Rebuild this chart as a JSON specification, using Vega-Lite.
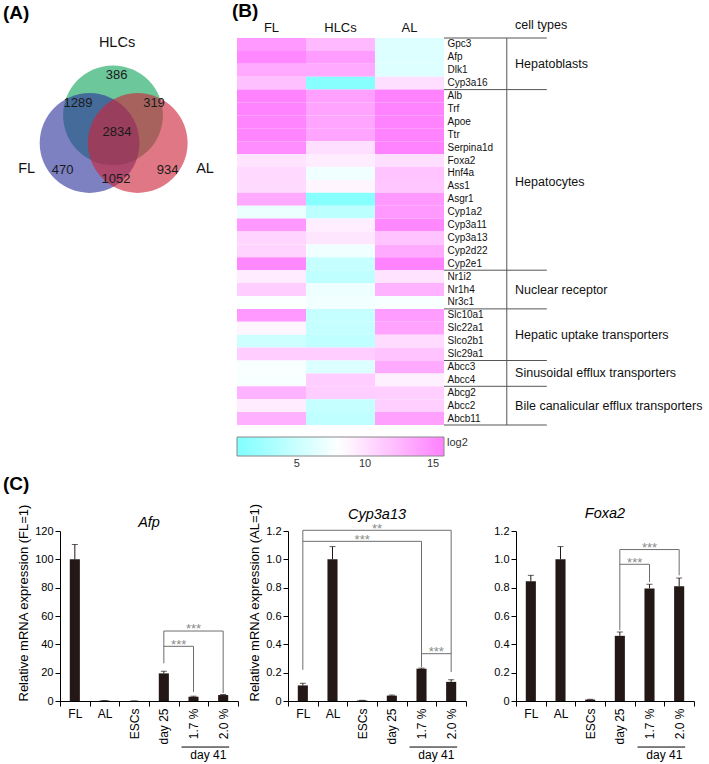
{
"$schema":"https://vega.github.io/schema/vega-lite/v6.json",
"autosize":{"type":"pad"},
"padding":{"left":3,"top":2,"right":0,"bottom":0},
"config":{"view":{"stroke":null},"font":"Liberation Sans",
 "axis":{"grid":false,"labelOverlap":false,"labelColor":"#000","domainColor":"#000","tickColor":"#000","titleColor":"#000","titleFontWeight":"normal","labelFont":"Liberation Sans","titleFont":"Liberation Sans"},
 "title":{"font":"Liberation Sans","color":"#000"},
 "text":{"font":"Liberation Sans"},
 "legend":{"labelFont":"Liberation Sans","titleFont":"Liberation Sans"}},
"datasets":{"heat":[
{"g":"Gpc3","s":"FL","v":14.3},{"g":"Gpc3","s":"HLCs","v":12.4},{"g":"Gpc3","s":"AL","v":6.2},
{"g":"Afp","s":"FL","v":15.4},{"g":"Afp","s":"HLCs","v":14.1},{"g":"Afp","s":"AL","v":6.2},
{"g":"Dlk1","s":"FL","v":13.3},{"g":"Dlk1","s":"HLCs","v":13.3},{"g":"Dlk1","s":"AL","v":6.2},
{"g":"Cyp3a16","s":"FL","v":12.0},{"g":"Cyp3a16","s":"HLCs","v":1.0},{"g":"Cyp3a16","s":"AL","v":10.1},
{"g":"Alb","s":"FL","v":15.6},{"g":"Alb","s":"HLCs","v":13.9},{"g":"Alb","s":"AL","v":15.6},
{"g":"Trf","s":"FL","v":15.6},{"g":"Trf","s":"HLCs","v":13.7},{"g":"Trf","s":"AL","v":15.6},
{"g":"Apoe","s":"FL","v":15.5},{"g":"Apoe","s":"HLCs","v":13.6},{"g":"Apoe","s":"AL","v":15.6},
{"g":"Ttr","s":"FL","v":15.5},{"g":"Ttr","s":"HLCs","v":13.6},{"g":"Ttr","s":"AL","v":15.6},
{"g":"Serpina1d","s":"FL","v":15.0},{"g":"Serpina1d","s":"HLCs","v":10.1},{"g":"Serpina1d","s":"AL","v":15.6},
{"g":"Foxa2","s":"FL","v":9.9},{"g":"Foxa2","s":"HLCs","v":9.3},{"g":"Foxa2","s":"AL","v":10.1},
{"g":"Hnf4a","s":"FL","v":10.5},{"g":"Hnf4a","s":"HLCs","v":7.3},{"g":"Hnf4a","s":"AL","v":11.8},
{"g":"Ass1","s":"FL","v":10.4},{"g":"Ass1","s":"HLCs","v":8.8},{"g":"Ass1","s":"AL","v":11.6},
{"g":"Asgr1","s":"FL","v":13.3},{"g":"Asgr1","s":"HLCs","v":1.0},{"g":"Asgr1","s":"AL","v":14.3},
{"g":"Cyp1a2","s":"FL","v":7.0},{"g":"Cyp1a2","s":"HLCs","v":4.2},{"g":"Cyp1a2","s":"AL","v":14.3},
{"g":"Cyp3a11","s":"FL","v":14.3},{"g":"Cyp3a11","s":"HLCs","v":9.2},{"g":"Cyp3a11","s":"AL","v":15.3},
{"g":"Cyp3a13","s":"FL","v":10.7},{"g":"Cyp3a13","s":"HLCs","v":9.7},{"g":"Cyp3a13","s":"AL","v":11.8},
{"g":"Cyp2d22","s":"FL","v":10.7},{"g":"Cyp2d22","s":"HLCs","v":7.3},{"g":"Cyp2d22","s":"AL","v":13.3},
{"g":"Cyp2e1","s":"FL","v":15.3},{"g":"Cyp2e1","s":"HLCs","v":4.7},{"g":"Cyp2e1","s":"AL","v":15.7},
{"g":"Nr1i2","s":"FL","v":9.3},{"g":"Nr1i2","s":"HLCs","v":4.4},{"g":"Nr1i2","s":"AL","v":9.9},
{"g":"Nr1h4","s":"FL","v":11.2},{"g":"Nr1h4","s":"HLCs","v":7.1},{"g":"Nr1h4","s":"AL","v":12.8},
{"g":"Nr3c1","s":"FL","v":8.0},{"g":"Nr3c1","s":"HLCs","v":7.4},{"g":"Nr3c1","s":"AL","v":7.8},
{"g":"Slc10a1","s":"FL","v":14.3},{"g":"Slc10a1","s":"HLCs","v":4.7},{"g":"Slc10a1","s":"AL","v":14.1},
{"g":"Slc22a1","s":"FL","v":8.8},{"g":"Slc22a1","s":"HLCs","v":4.7},{"g":"Slc22a1","s":"AL","v":13.7},
{"g":"Slco2b1","s":"FL","v":5.2},{"g":"Slco2b1","s":"HLCs","v":4.4},{"g":"Slco2b1","s":"AL","v":10.3},
{"g":"Slc29a1","s":"FL","v":11.2},{"g":"Slc29a1","s":"HLCs","v":11.2},{"g":"Slc29a1","s":"AL","v":11.8},
{"g":"Abcc3","s":"FL","v":7.8},{"g":"Abcc3","s":"HLCs","v":6.1},{"g":"Abcc3","s":"AL","v":13.3},
{"g":"Abcc4","s":"FL","v":7.8},{"g":"Abcc4","s":"HLCs","v":11.2},{"g":"Abcc4","s":"AL","v":9.1},
{"g":"Abcg2","s":"FL","v":12.8},{"g":"Abcg2","s":"HLCs","v":11.2},{"g":"Abcg2","s":"AL","v":11.0},
{"g":"Abcc2","s":"FL","v":9.3},{"g":"Abcc2","s":"HLCs","v":4.7},{"g":"Abcc2","s":"AL","v":11.0},
{"g":"Abcb11","s":"FL","v":12.9},{"g":"Abcb11","s":"HLCs","v":4.4},{"g":"Abcb11","s":"AL","v":13.9}
]},
"spacing":6,
"vconcat":[
{"hconcat":[
 {"width":160,"height":170,
  "title":{"text":"(A)","anchor":"start","frame":"group","dx":-57,"fontSize":19,"fontWeight":"bold","offset":12},
  "layer":[
   {"data":{"values":[{"set":"HLCs","cx":53,"cy":77.3},{"set":"FL","cx":29.6,"cy":105},{"set":"AL","cx":77.7,"cy":105}]},
    "mark":{"type":"point","shape":"circle","filled":true,"opacity":0.62,"size":9960,"strokeWidth":0},
    "encoding":{"x":{"field":"cx","type":"quantitative","scale":{"domain":[0,160],"nice":false,"zero":false},"axis":null},
     "y":{"field":"cy","type":"quantitative","scale":{"domain":[0,170],"nice":false,"zero":false,"reverse":true},"axis":null},
     "color":{"field":"set","type":"nominal","scale":{"domain":["HLCs","FL","AL"],"range":["#11a45c","#2d329b","#cd2338"]},"legend":null}}},
   {"data":{"values":[{"t":"HLCs","x":57,"y":4.7},{"t":"FL","x":-33.3,"y":131.3},{"t":"AL","x":145,"y":131.3}]},
    "mark":{"type":"text","fontSize":14.5,"color":"#111","baseline":"middle","align":"center"},
    "encoding":{"x":{"field":"x","type":"quantitative"},"y":{"field":"y","type":"quantitative"},"text":{"field":"t"}}},
   {"data":{"values":[{"t":"386","x":56.7,"y":37},{"t":"1289","x":18,"y":65},{"t":"319","x":94,"y":65},{"t":"2834","x":57,"y":93.7},{"t":"470","x":2.7,"y":132},{"t":"1052","x":56,"y":141},{"t":"934","x":107.7,"y":132}]},
    "mark":{"type":"text","fontSize":13,"color":"#1a1a1a","baseline":"middle","align":"center"},
    "encoding":{"x":{"field":"x","type":"quantitative"},"y":{"field":"y","type":"quantitative"},"text":{"field":"t"}}}
  ]},
 {"width":207,"height":387,
  "title":{"text":"(B)","anchor":"start","frame":"group","dx":-5,"fontSize":19,"fontWeight":"bold","offset":-2},
  "resolve":{"scale":{"x":"independent","y":"independent"}},
  "layer":[
   {"data":{"name":"heat"},"mark":{"type":"rect"},
    "encoding":{
     "x":{"field":"s","type":"nominal","sort":["FL","HLCs","AL"],"scale":{"paddingInner":0,"paddingOuter":0},"axis":{"orient":"top","title":null,"ticks":false,"domain":false,"labelAngle":0,"labelFontSize":13,"labelPadding":4,"labelColor":"#111"}},
     "y":{"field":"g","type":"nominal","sort":["Gpc3","Afp","Dlk1","Cyp3a16","Alb","Trf","Apoe","Ttr","Serpina1d","Foxa2","Hnf4a","Ass1","Asgr1","Cyp1a2","Cyp3a11","Cyp3a13","Cyp2d22","Cyp2e1","Nr1i2","Nr1h4","Nr3c1","Slc10a1","Slc22a1","Slco2b1","Slc29a1","Abcc3","Abcc4","Abcg2","Abcc2","Abcb11"],"scale":{"paddingInner":0,"paddingOuter":0},"axis":{"orient":"right","title":null,"ticks":false,"domain":false,"labelFontSize":10,"labelPadding":3,"labelColor":"#111"}},
     "color":{"field":"v","type":"quantitative","scale":{"domain":[0.6,15.8],"domainMid":8.2,"range":["#80ffff","#ffffff","#ff80ff"],"interpolate":"rgb","zero":false,"nice":false},
      "legend":{"orient":"none","legendX":0,"legendY":399,"direction":"horizontal","gradientLength":207,"gradientThickness":19,"gradientStrokeColor":"#888","gradientStrokeWidth":1,"values":[5,10,15],"title":"log2","titleOrient":"right","titleAnchor":"start","titlePadding":2,"titleFontSize":11,"titleFontWeight":"normal","titleColor":"#333","labelFontSize":11,"labelColor":"#333","labelOffset":2}}}},
   {"data":{"values":[{"xa":3,"xb":4.49,"ya":0,"yb":0},{"xa":3,"xb":4.49,"ya":4,"yb":4},{"xa":3,"xb":4.49,"ya":18,"yb":18},{"xa":3,"xb":4.49,"ya":21,"yb":21},{"xa":3,"xb":4.49,"ya":25,"yb":25},{"xa":3,"xb":4.49,"ya":27,"yb":27},{"xa":3,"xb":4.49,"ya":30,"yb":30},{"xa":3.91,"xb":3.91,"ya":0,"yb":30}]},
    "mark":{"type":"rule","color":"#555","strokeWidth":1},
    "encoding":{"x":{"field":"xa","type":"quantitative","scale":{"domain":[0,3],"nice":false,"zero":false},"axis":null},"x2":{"field":"xb"},
     "y":{"field":"ya","type":"quantitative","scale":{"domain":[0,30],"nice":false,"zero":false,"reverse":true},"axis":null},"y2":{"field":"yb"}}},
   {"data":{"values":[{"t":"cell types","x":4.03,"y":-1.0},{"t":"Hepatoblasts","x":4.03,"y":2},{"t":"Hepatocytes","x":4.03,"y":11.2},{"t":"Nuclear receptor","x":4.03,"y":19.5},{"t":"Hepatic uptake transporters","x":4.03,"y":23},{"t":"Sinusoidal efflux transporters","x":4.03,"y":26},{"t":"Bile canalicular efflux transporters","x":4.03,"y":28.5}]},
    "mark":{"type":"text","align":"left","baseline":"middle","fontSize":12.5,"color":"#111"},
    "encoding":{"x":{"field":"x","type":"quantitative","scale":{"domain":[0,3],"nice":false,"zero":false},"axis":null},
     "y":{"field":"y","type":"quantitative","scale":{"domain":[0,30],"nice":false,"zero":false,"reverse":true},"axis":null},
     "text":{"field":"t"}}}
  ]}
 ],"spacing":17,"bounds":"flush"},
{"hconcat":[
 {"width":178,"height":170,
  "title":{"text":"Afp","fontStyle":"italic","fontSize":14.5,"fontWeight":"normal","offset":-4,"dy":22.7},
  "data":{"values":[{"c":"FL","v":100,"hi":110.5},{"c":"AL","v":0.3,"hi":0.3},{"c":"ESCs","v":0.1,"hi":0.1},{"c":"day 25","v":19.5,"hi":21},{"c":"1.7 %","v":3,"hi":3.4},{"c":"2.0 %","v":4.2,"hi":4.6}]},
  "layer":[
   {"mark":{"type":"bar","color":"#231815","width":{"band":0.34}},
    "encoding":{"x":{"field":"c","type":"nominal","sort":null,"scale":{"domain":["FL","AL","ESCs","day 25","1.7 %","2.0 %"],"paddingInner":0,"paddingOuter":0},
      "axis":{"title":null,"tickBand":"extent","tickSize":5,"labelPadding":2,"labelFontSize":12,"labelAngle":{"expr":"(datum.value=='FL'||datum.value=='AL')?0:270"},"labelAlign":{"condition":{"test":"datum.value=='FL'||datum.value=='AL'","value":"center"},"value":"right"},"labelBaseline":{"condition":{"test":"datum.value=='FL'||datum.value=='AL'","value":"top"},"value":"middle"}}},
     "y":{"field":"v","type":"quantitative","scale":{"domain":[0,120],"nice":false},"axis":{"values":[0,20,40,60,80,100,120],"tickCount":7,"labelOverlap":false,"title":"Relative mRNA expression (FL=1)","titleFontSize":13,"titleAnchor":"start","titlePadding":4,"tickSize":5,"labelPadding":2,"labelFontSize":11}}}},
   {"mark":{"type":"rule","color":"#231815"},"encoding":{"x":{"field":"c","type":"nominal"},"y":{"field":"v","type":"quantitative"},"y2":{"field":"hi"}}},
   {"mark":{"type":"tick","color":"#231815","size":6,"thickness":1},"encoding":{"x":{"field":"c","type":"nominal"},"y":{"field":"hi","type":"quantitative"}}},
   {"data":{"values":[{"xa":"day 25","xb":"2.0 %","ya":49.4,"yb":49.4},{"xa":"day 25","xb":"day 25","ya":26.6,"yb":49.4},{"xa":"2.0 %","xb":"2.0 %","ya":5.6,"yb":49.4},{"xa":"day 25","xb":"1.7 %","ya":38.6,"yb":38.6},{"xa":"1.7 %","xb":"1.7 %","ya":6.4,"yb":38.6}]},
    "mark":{"type":"rule","color":"#6e6e6e","strokeWidth":1},
    "encoding":{"x":{"field":"xa","type":"nominal"},"x2":{"field":"xb"},"y":{"field":"ya","type":"quantitative"},"y2":{"field":"yb"}}},
   {"data":{"values":[{"sx":"1.7 %","y":49.4,"t":"***"}]},
    "mark":{"type":"text","color":"#8a8a8a","fontSize":13,"baseline":"alphabetic","dy":2.4},
    "encoding":{"x":{"field":"sx","type":"nominal"},"y":{"field":"y","type":"quantitative"},"text":{"field":"t"}}},
   {"data":{"values":[{"sx":"1.7 %","y":38.6,"t":"***"}]},
    "mark":{"type":"text","color":"#8a8a8a","fontSize":13,"baseline":"alphabetic","dy":2.4},
    "encoding":{"x":{"field":"sx","type":"nominal","bandPosition":0},"y":{"field":"y","type":"quantitative"},"text":{"field":"t"}}},
   {"data":{"values":[{}]},"mark":{"type":"rule","color":"#000","xOffset":-12,"x2Offset":6},
    "encoding":{"x":{"datum":"1.7 %"},"x2":{"datum":"2.0 %"},"y":{"datum":-32.5}}},
   {"data":{"values":[{}]},"mark":{"type":"text","fontSize":12,"baseline":"middle","color":"#000"},
    "encoding":{"x":{"datum":"2.0 %","bandPosition":0},"y":{"datum":-38.3},"text":{"value":"day 41"}}}
  ]},
 {"width":178,"height":170,
  "title":{"text":"Cyp3a13","fontStyle":"italic","fontSize":14.5,"fontWeight":"normal","offset":0,"dy":19.6},
  "data":{"values":[{"c":"FL","v":0.11,"hi":0.125},{"c":"AL","v":1.0,"hi":1.09},{"c":"ESCs","v":0.004,"hi":0.005},{"c":"day 25","v":0.038,"hi":0.042},{"c":"1.7 %","v":0.228,"hi":0.232},{"c":"2.0 %","v":0.135,"hi":0.15}]},
  "layer":[
   {"mark":{"type":"bar","color":"#231815","width":{"band":0.34}},
    "encoding":{"x":{"field":"c","type":"nominal","sort":null,"scale":{"domain":["FL","AL","ESCs","day 25","1.7 %","2.0 %"],"paddingInner":0,"paddingOuter":0},
      "axis":{"title":null,"tickBand":"extent","tickSize":5,"labelPadding":2,"labelFontSize":12,"labelAngle":{"expr":"(datum.value=='FL'||datum.value=='AL')?0:270"},"labelAlign":{"condition":{"test":"datum.value=='FL'||datum.value=='AL'","value":"center"},"value":"right"},"labelBaseline":{"condition":{"test":"datum.value=='FL'||datum.value=='AL'","value":"top"},"value":"middle"}}},
     "y":{"field":"v","type":"quantitative","scale":{"domain":[0,1.2],"nice":false},"axis":{"values":[0,0.2,0.4,0.6,0.8,1.0,1.2],"tickCount":7,"labelOverlap":false,"labelExpr":"datum.value==0?'0':format(datum.value,'.1f')","title":"Relative mRNA expression (AL=1)","titleFontSize":13,"titleAnchor":"start","titlePadding":4,"tickSize":5,"labelPadding":2,"labelFontSize":11}}}},
   {"mark":{"type":"rule","color":"#231815"},"encoding":{"x":{"field":"c","type":"nominal"},"y":{"field":"v","type":"quantitative"},"y2":{"field":"hi"}}},
   {"mark":{"type":"tick","color":"#231815","size":6,"thickness":1},"encoding":{"x":{"field":"c","type":"nominal"},"y":{"field":"hi","type":"quantitative"}}},
   {"data":{"values":[{"xa":"FL","xb":"2.0 %","ya":1.205,"yb":1.205},{"xa":"FL","xb":"FL","ya":0.22,"yb":1.205},{"xa":"2.0 %","xb":"2.0 %","ya":0.205,"yb":1.205},{"xa":"FL","xb":"1.7 %","ya":1.127,"yb":1.127},{"xa":"1.7 %","xb":"1.7 %","ya":0.24,"yb":1.127},{"xa":"1.7 %","xb":"2.0 %","ya":0.334,"yb":0.334}]},
    "mark":{"type":"rule","color":"#6e6e6e","strokeWidth":1},
    "encoding":{"x":{"field":"xa","type":"nominal"},"x2":{"field":"xb"},"y":{"field":"ya","type":"quantitative"},"y2":{"field":"yb"}}},
   {"data":{"values":[{"sx":"ESCs","y":1.127,"t":"***"}]},
    "mark":{"type":"text","color":"#8a8a8a","fontSize":13,"baseline":"alphabetic","dy":2.4},
    "encoding":{"x":{"field":"sx","type":"nominal"},"y":{"field":"y","type":"quantitative"},"text":{"field":"t"}}},
   {"data":{"values":[{"sx":"day 25","y":1.205,"t":"**"},{"sx":"2.0 %","y":0.334,"t":"***"}]},
    "mark":{"type":"text","color":"#8a8a8a","fontSize":13,"baseline":"alphabetic","dy":2.4},
    "encoding":{"x":{"field":"sx","type":"nominal","bandPosition":0},"y":{"field":"y","type":"quantitative"},"text":{"field":"t"}}},
   {"data":{"values":[{}]},"mark":{"type":"rule","color":"#000","xOffset":-12,"x2Offset":6},
    "encoding":{"x":{"datum":"1.7 %"},"x2":{"datum":"2.0 %"},"y":{"datum":-0.325}}},
   {"data":{"values":[{}]},"mark":{"type":"text","fontSize":12,"baseline":"middle","color":"#000"},
    "encoding":{"x":{"datum":"2.0 %","bandPosition":0},"y":{"datum":-0.383},"text":{"value":"day 41"}}}
  ]},
 {"width":178,"height":170,
  "title":{"text":"Foxa2","fontStyle":"italic","fontSize":14.5,"fontWeight":"normal","offset":5,"dy":1.9},
  "data":{"values":[{"c":"FL","v":0.845,"hi":0.887},{"c":"AL","v":1.0,"hi":1.09},{"c":"ESCs","v":0.01,"hi":0.012},{"c":"day 25","v":0.46,"hi":0.487},{"c":"1.7 %","v":0.795,"hi":0.824},{"c":"2.0 %","v":0.81,"hi":0.868}]},
  "layer":[
   {"mark":{"type":"bar","color":"#231815","width":{"band":0.34}},
    "encoding":{"x":{"field":"c","type":"nominal","sort":null,"scale":{"domain":["FL","AL","ESCs","day 25","1.7 %","2.0 %"],"paddingInner":0,"paddingOuter":0},
      "axis":{"title":null,"tickBand":"extent","tickSize":5,"labelPadding":2,"labelFontSize":12,"labelAngle":{"expr":"(datum.value=='FL'||datum.value=='AL')?0:270"},"labelAlign":{"condition":{"test":"datum.value=='FL'||datum.value=='AL'","value":"center"},"value":"right"},"labelBaseline":{"condition":{"test":"datum.value=='FL'||datum.value=='AL'","value":"top"},"value":"middle"}}},
     "y":{"field":"v","type":"quantitative","scale":{"domain":[0,1.2],"nice":false},"axis":{"values":[0,0.2,0.4,0.6,0.8,1.0,1.2],"tickCount":7,"labelOverlap":false,"labelExpr":"datum.value==0?'0':format(datum.value,'.1f')","title":null,"tickSize":5,"labelPadding":2,"labelFontSize":11}}}},
   {"mark":{"type":"rule","color":"#231815"},"encoding":{"x":{"field":"c","type":"nominal"},"y":{"field":"v","type":"quantitative"},"y2":{"field":"hi"}}},
   {"mark":{"type":"tick","color":"#231815","size":6,"thickness":1},"encoding":{"x":{"field":"c","type":"nominal"},"y":{"field":"hi","type":"quantitative"}}},
   {"data":{"values":[{"xa":"day 25","xb":"2.0 %","ya":1.069,"yb":1.069},{"xa":"day 25","xb":"day 25","ya":0.5,"yb":1.069},{"xa":"2.0 %","xb":"2.0 %","ya":0.887,"yb":1.069},{"xa":"day 25","xb":"1.7 %","ya":0.965,"yb":0.965},{"xa":"1.7 %","xb":"1.7 %","ya":0.84,"yb":0.965}]},
    "mark":{"type":"rule","color":"#6e6e6e","strokeWidth":1},
    "encoding":{"x":{"field":"xa","type":"nominal"},"x2":{"field":"xb"},"y":{"field":"ya","type":"quantitative"},"y2":{"field":"yb"}}},
   {"data":{"values":[{"sx":"1.7 %","y":1.069,"t":"***"}]},
    "mark":{"type":"text","color":"#8a8a8a","fontSize":13,"baseline":"alphabetic","dy":2.4},
    "encoding":{"x":{"field":"sx","type":"nominal"},"y":{"field":"y","type":"quantitative"},"text":{"field":"t"}}},
   {"data":{"values":[{"sx":"1.7 %","y":0.965,"t":"***"}]},
    "mark":{"type":"text","color":"#8a8a8a","fontSize":13,"baseline":"alphabetic","dy":2.4},
    "encoding":{"x":{"field":"sx","type":"nominal","bandPosition":0},"y":{"field":"y","type":"quantitative"},"text":{"field":"t"}}},
   {"data":{"values":[{}]},"mark":{"type":"rule","color":"#000","xOffset":-12,"x2Offset":6},
    "encoding":{"x":{"datum":"1.7 %"},"x2":{"datum":"2.0 %"},"y":{"datum":-0.325}}},
   {"data":{"values":[{}]},"mark":{"type":"text","fontSize":12,"baseline":"middle","color":"#000"},
    "encoding":{"x":{"datum":"2.0 %","bandPosition":0},"y":{"datum":-0.383},"text":{"value":"day 41"}}}
  ]}
 ],"spacing":50,"bounds":"flush",
 "title":{"text":"(C)","anchor":"start","frame":"group","dx":-57,"fontSize":19,"fontWeight":"bold","offset":8.2}}
]
}
